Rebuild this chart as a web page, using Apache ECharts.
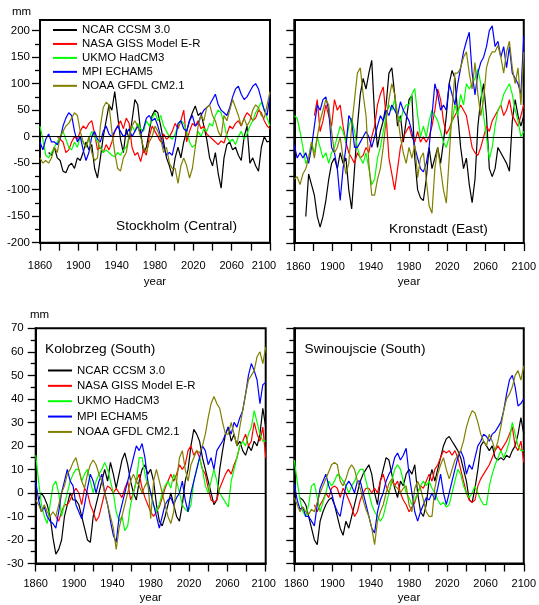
<!DOCTYPE html>
<html>
<head>
<meta charset="utf-8">
<script src="https://cdn.jsdelivr.net/npm/echarts@6/dist/echarts.min.js"></script>
<style>
html,body{margin:0;padding:0;background:#fff;}
#chart{width:539px;height:605px;}
</style>
</head>
<body>
<div id="chart"></div>
<script>
// ---------- data ----------
const years = [1860,1863,1866,1869,1872,1875,1878,1881,1884,1887,
  1890,1893,1896,1899,1902,1905,1908,1911,1914,1917,
  1920,1923,1926,1929,1932,1935,1938,1941,1944,1947,
  1950,1953,1956,1959,1962,1965,1968,1971,1974,1977,
  1980,1983,1986,1989,1992,1995,1998,2001,2004,2007,
  2010,2013,2016,2019,2022,2025,2028,2031,2034,2037,
  2040,2043,2046,2049,2052,2055,2058,2061,2064,2067,
  2070,2073,2076,2079,2082,2085,2088,2091,2094,2097,2100];

const modelNames = ['NCAR CCSM 3.0','NASA GISS Model E-R','UKMO HadCM3','MPI ECHAM5','NOAA GFDL CM2.1'];
const modelColors = ['#000000','#ff0000','#00ff00','#0000ff','#808000'];

const xTickLabels = [1860,1900,1940,1980,2020,2060,2100];
const topMajorTicks = [-200,-150,-100,-50,0,50,100,150,200];
const topMinorTicks = [-175,-125,-75,-25,25,75,125,175];
const bottomMajorTicks = [-30,-20,-10,0,10,20,30,40,50,60,70];
const bottomMinorTicks = [-25,-15,-5,5,15,25,35,45,55,65];

// Stockholm (Central)
const stockholmNCAR = [null,null,null,-30,-35,-20,-40,-45,-65,-68,
 -55,-50,-60,-40,-45,-30,-10,-25,-15,-60,
 -78,-40,0,30,60,50,85,40,-5,-30,
 15,-5,30,70,60,10,-30,-20,10,40,
 50,45,20,-10,-40,-55,-75,-40,-20,-40,
 -10,10,30,45,58,40,45,20,-5,-40,
 -55,-30,-70,-97,-40,-15,-10,-25,-20,-35,
 -45,0,20,-50,-40,-55,-65,-20,0,-10,
 -8];
const stockholmNASA = [null,null,null,null,null,null,0,-5,-10,-30,
 -25,-10,0,-5,10,20,15,25,30,5,
 -25,-20,-30,-15,-25,-10,10,20,30,15,
 35,25,-20,-35,-30,-47,-25,-35,0,20,
 10,0,-10,5,-5,0,10,25,15,30,
 50,-10,10,25,20,30,15,20,5,0,
 -5,-10,-15,-8,-12,5,20,15,25,30,
 20,35,45,40,30,35,50,45,30,20,
 15];
const stockholmUKMO = [20,-5,-35,-40,-30,-20,-10,0,10,-5,
 -20,-25,-10,-20,0,-10,-20,-5,10,0,
 -10,-20,-30,-25,-30,-35,-38,-30,-35,-25,
 -20,0,20,10,25,15,10,30,20,35,
 45,30,40,20,10,0,-5,5,20,30,
 25,10,-10,-20,-15,10,0,15,10,25,
 20,40,50,45,25,0,-10,-5,-15,0,
 10,-5,5,20,30,45,55,65,50,35,
 20];
const stockholmMPI = [-10,-25,-5,5,-10,-10,-15,-5,20,35,
 45,40,10,-10,0,-25,-45,-30,0,10,
 -5,-10,10,20,5,0,10,20,10,0,
 5,15,0,10,20,5,15,35,40,30,
 35,20,0,-20,-35,-30,-35,-10,25,30,
 15,10,30,40,20,25,40,50,55,60,
 70,80,60,50,45,40,55,75,90,95,
 80,70,75,85,95,100,90,70,50,40,
 80];
const stockholmGFDL = [-40,-50,-45,-50,-40,-20,-30,0,10,20,
 25,35,45,40,10,-10,-20,0,-30,-45,
 -40,20,55,65,60,10,-30,-60,-65,-40,
 -30,0,20,30,20,0,-20,-30,-10,0,
 20,10,-5,-30,-20,-50,-60,-60,-88,-55,
 -40,-55,-78,-60,-20,20,40,30,55,60,
 40,30,10,0,40,30,50,70,55,40,
 20,35,20,30,50,60,55,40,35,60,
 85];

// Kronstadt (East)
const kronstadtNCAR = [null,null,null,null,-150,-70,-90,-110,-150,-170,
 -150,-120,-80,-50,-40,-60,-30,-50,-40,-100,
 -136,-60,20,80,110,90,120,144,40,-20,
 10,30,60,120,130,80,20,40,-10,30,
 70,78,-40,-100,-115,-120,-80,-20,-60,-40,
 -20,-50,-10,40,100,125,110,40,-20,-60,
 -40,-90,-124,-80,20,70,100,40,-60,-75,
 -60,-20,-30,-40,-50,-65,30,70,40,20,
 40];
const kronstadtNASA = [null,null,null,null,null,null,null,40,70,10,
 30,60,40,20,70,50,60,20,-10,-30,
 -40,-50,-30,-40,-35,-20,-30,0,20,60,
 80,94,40,-40,-70,-100,-60,-20,0,10,
 20,0,-10,10,-10,0,-10,0,20,50,
 90,70,30,5,15,30,40,50,60,50,
 40,10,-20,-30,-35,-20,0,20,10,30,
 40,50,60,40,50,70,40,30,20,40,
 60];
const kronstadtUKMO = [40,35,10,-20,-50,-40,-10,-30,0,-20,
 -40,-30,-50,-30,-20,0,20,10,-10,20,
 35,10,-20,-40,-50,-30,-60,-90,-80,-40,
 -20,10,40,60,50,70,40,30,50,60,
 60,80,91,40,0,20,0,30,50,40,
 30,10,-10,-20,0,30,60,40,80,60,
 100,90,100,110,128,100,40,0,-42,-20,
 20,50,60,80,90,100,80,50,30,0,
 10];
const kronstadtMPI = [-15,-40,-30,-40,-30,-50,-20,20,60,50,
 70,75,50,-20,-30,-60,-120,-60,-20,40,
 30,-20,-20,-10,0,10,0,-20,0,20,
 40,30,50,40,60,50,40,66,50,40,
 30,10,-20,-40,-60,-66,-50,-20,40,100,
 80,50,60,50,100,80,60,100,130,160,
 180,197,120,79,120,140,150,170,200,209,
 170,180,150,170,130,170,120,110,100,80,
 190];
const kronstadtGFDL = [-80,-75,-90,-70,-60,-40,-10,-40,0,30,
 50,70,60,10,-30,-20,0,-40,-70,-50,
 20,70,120,130,80,40,-50,-110,-110,-80,
 -60,-20,30,70,100,80,40,0,-30,-50,
 -20,-40,-15,-77,-40,-30,-80,-130,-144,-60,
 -20,-60,-100,-125,-40,50,120,120,130,150,
 160,120,90,140,80,40,70,130,150,160,
 160,172,150,120,160,180,130,100,130,60,
 160];

// Kolobrzeg (South)
const kolobrzegNCAR = [null,-3,0,-2,-5,-10,-19,-26,-24,-20,
 -10,-5,0,-3,-3,-5,-10,-15,-20,-21,
 -10,-5,0,5,10,5,13,8,2,8,
 14,17,12,5,0,-3,5,10,12,8,
 10,5,-5,-12,-14,-10,-5,0,-5,-10,
 -12,-5,5,10,20,27,25,22,15,10,
 5,0,-5,-3,10,18,25,28,22,25,
 20,22,18,16,20,18,22,20,25,36,
 28];
const kolobrzegNASA = [null,null,null,null,null,null,null,-10,-12,-8,
 -5,-5,-3,0,2,0,-5,2,0,-5,
 -8,-12,-10,-5,0,3,2,0,2,0,
 -2,2,5,-3,0,5,8,2,-2,-5,
 -8,-10,-8,-6,-2,2,5,8,5,8,
 12,10,12,18,20,16,18,15,10,8,
 2,-3,-4,-3,2,5,8,10,8,12,
 15,20,22,25,20,22,30,25,22,28,
 15];
const kolobrzegUKMO = [16,5,-5,-10,-13,-5,3,5,0,-10,
 -5,0,5,8,10,10,5,8,10,5,
 0,5,8,10,13,10,5,0,-8,-12,
 -10,-16,-14,-5,0,5,15,15,8,3,
 0,-5,-8,-5,0,3,5,2,8,5,
 0,-5,-7,-8,-5,5,10,15,10,3,
 0,5,10,5,0,-2,-4,-6,5,10,
 15,20,22,20,25,28,35,30,25,22,
 22];
const kolobrzegMPI = [5,-3,-8,-6,-10,-12,-13,-15,-8,0,
 5,10,5,3,-5,-8,-11,-5,2,8,
 5,0,5,8,0,-5,-12,-18,-21,-10,
 -5,0,5,10,15,20,18,21,15,5,
 0,-5,-10,-15,-10,-5,-3,-2,-5,-2,
 0,5,-3,-8,0,5,10,15,20,18,
 12,15,10,18,20,22,25,28,25,30,
 28,32,35,42,50,55,52,48,38,46,
 47];
const kolobrzegGFDL = [-3,-5,-8,-5,-8,-10,-8,-10,-5,0,
 3,8,10,13,15,10,5,2,8,12,
 14,12,8,5,0,-5,-10,-15,-24,-15,
 -10,-5,0,5,8,5,3,0,3,5,
 -11,5,10,5,0,-5,-10,-13,-8,5,
 15,18,10,5,12,15,18,17,20,25,
 32,38,41,38,36,30,25,25,30,25,
 20,28,35,42,48,50,52,58,60,55,
 62];

// Swinoujscie (South)
const swinoujscieNCAR = [null,null,-2,-3,-5,-10,-15,-20,-22,-12,
 -8,-5,-3,-2,-5,-10,-15,-18,-12,-15,
 -10,-5,0,5,8,10,12,8,0,-5,
 5,10,15,14,8,2,-2,5,3,8,
 10,8,12,0,-8,-10,-5,5,10,5,
 10,15,20,23,24,22,20,18,15,10,
 5,-3,-4,2,10,20,22,20,18,20,
 15,14,15,14,16,15,18,20,25,32,
 25];
const swinoujscieNASA = [null,null,null,null,null,null,null,-5,-8,-5,
 -3,0,-2,2,3,2,-2,2,0,-3,
 -6,-10,-8,-3,0,2,2,0,2,0,
 5,8,3,0,5,3,5,0,-3,-5,
 -8,-6,-4,0,3,2,5,8,5,10,
 12,15,18,17,18,16,18,15,10,5,
 0,-3,-4,-3,3,6,8,10,12,15,
 18,20,18,20,22,25,28,20,18,22,
 13];
const swinoujscieUKMO = [14,5,-3,-8,-10,-5,3,4,-2,-8,
 -4,0,5,3,5,8,7,5,3,0,
 3,5,8,10,10,5,0,-5,-8,-10,
 -12,-10,-5,0,5,10,12,10,5,0,
 -2,-5,-3,0,3,5,3,5,2,0,
 -3,-5,-4,-6,-5,0,5,10,8,3,
 0,-2,0,3,0,-3,-5,-5,3,8,
 12,15,18,15,18,22,30,25,20,18,
 18];
const swinoujscieMPI = [4,-3,-7,-6,-10,-10,-12,-14,-5,2,
 5,8,3,0,-5,-8,-10,-3,3,5,
 3,0,5,5,0,-5,-10,-15,-17,-8,
 -3,0,5,8,10,15,17,14,16,19,
 8,0,-8,-12,-8,-5,-2,-3,0,-3,
 2,8,0,-5,0,5,10,15,18,15,
 8,12,10,15,20,22,25,24,22,25,
 26,28,30,35,42,48,50,45,37,38,
 40];
const swinoujscieGFDL = [-2,-5,-8,-6,-8,-9,-7,-8,-4,0,
 3,6,9,12,13,12,5,3,6,10,
 12,10,5,2,-3,-7,-10,-15,-22,-12,
 -8,-5,0,4,6,3,2,0,2,3,
 -5,-8,2,5,2,-3,-8,-10,-10,2,
 8,12,15,10,6,10,14,16,18,22,
 28,32,35,34,30,25,22,20,25,22,
 18,22,28,35,40,42,45,50,52,48,
 54];

// ---------- layout / styles ----------
const FONT = '"Liberation Sans", Arial, Helvetica, sans-serif';
const panels = [
  { title:'Stockholm (Central)', tx:116, ty:219, grid:{left:40, top:20, width:230, height:222.7},
    yMin:-200, yMax:220, major:topMajorTicks, minor:topMinorTicks, yLabels:true, yMargin:10,
    xMargin:18, nameGap:33, padMin:0, padMax:6,
    series:[stockholmNCAR,stockholmNASA,stockholmUKMO,stockholmMPI,stockholmGFDL] },
  { title:'Kronstadt (East)', tx:389, ty:222.6, grid:{left:294.3, top:20, width:230.7, height:223},
    yMin:-200, yMax:220, major:topMajorTicks, minor:topMinorTicks, yLabels:false, yMargin:10,
    xMargin:18, nameGap:33, padMin:4, padMax:0,
    series:[kronstadtNCAR,kronstadtNASA,kronstadtUKMO,kronstadtMPI,kronstadtGFDL] },
  { title:'Kolobrzeg (South)', tx:45, ty:342.6, grid:{left:35.7, top:328.3, width:230, height:235.7},
    yMin:-30, yMax:70, major:bottomMajorTicks, minor:bottomMinorTicks, yLabels:true, yMargin:12,
    xMargin:15, nameGap:28.5, padMin:0, padMax:2,
    series:[kolobrzegNCAR,kolobrzegNASA,kolobrzegUKMO,kolobrzegMPI,kolobrzegGFDL] },
  { title:'Swinoujscie (South)', tx:304.5, ty:342, grid:{left:294.3, top:328.3, width:230, height:235.7},
    yMin:-30, yMax:70, major:bottomMajorTicks, minor:bottomMinorTicks, yLabels:false, yMargin:12,
    xMargin:15, nameGap:28.5, padMin:2, padMax:0,
    series:[swinoujscieNCAR,swinoujscieNASA,swinoujscieUKMO,swinoujscieMPI,swinoujscieGFDL] }
];

const grids = [], xAxes = [], yAxes = [], series = [], titles = [];
panels.forEach((p, i) => {
  grids.push(Object.assign({show:true, borderColor:'#000', borderWidth:2, backgroundColor:'transparent'}, p.grid));
  const tickFont = {color:'#000', fontSize:11, fontFamily:FONT};
  xAxes.push({
    type:'value', gridIndex:i, min:1860, max:2100, interval:20,
    name:'year', nameLocation:'middle', nameGap:p.nameGap,
    nameTextStyle:{color:'#000', fontSize:11.5, fontFamily:FONT},
    axisLine:{show:true, onZero:false, lineStyle:{color:'#000', width:2}},
    axisTick:{show:true, length:8, lineStyle:{color:'#000', width:1.3}},
    axisLabel:Object.assign({show:true, margin:p.xMargin, showMinLabel:true, showMaxLabel:true,
      rich:{
        lo:Object.assign({padding:[0,0,0,2*p.padMin]}, tickFont),
        hi:Object.assign({padding:[0,2*p.padMax,0,0]}, tickFont)
      },
      formatter:v => {
        if (xTickLabels.indexOf(v) < 0) return '';
        if (v === xTickLabels[0]) return '{lo|' + v + '}';
        if (v === xTickLabels[xTickLabels.length-1]) return '{hi|' + v + '}';
        return String(v);
      }}, tickFont),
    splitLine:{show:false}
  });
  yAxes.push({
    type:'value', gridIndex:i, min:p.yMin, max:p.yMax, position:'left',
    axisLine:{show:true, onZero:false, lineStyle:{color:'#000', width:2}},
    axisTick:{show:true, length:8, customValues:p.major, lineStyle:{color:'#000', width:1.3}},
    axisLabel:{show:p.yLabels, customValues:p.major, margin:p.yMargin, color:'#000', fontSize:11.5, fontFamily:FONT},
    splitLine:{show:false}
  });
  yAxes.push({
    type:'value', gridIndex:i, min:p.yMin, max:p.yMax, position:'left',
    axisLine:{show:false},
    axisTick:{show:true, length:5, customValues:p.minor, lineStyle:{color:'#000', width:1.3}},
    axisLabel:{show:false, customValues:p.minor},
    splitLine:{show:false}
  });
  p.series.forEach((vals, k) => {
    const s = {
      type:'line', name:modelNames[k], xAxisIndex:i, yAxisIndex:2*i,
      data: years.map((y, j) => [y, vals[j]]),
      showSymbol:false, symbol:'none', connectNulls:false,
      lineStyle:{color:modelColors[k], width:1.2},
      itemStyle:{color:modelColors[k]},
      animation:false, silent:true
    };
    if (k === 4) {
      s.markLine = {silent:true, symbol:['none','none'], label:{show:false},
        lineStyle:{color:'#000', width:1, type:'solid'}, data:[{yAxis:0}], animation:false};
    }
    series.push(s);
  });
  titles.push({text:p.title, left:p.tx, top:p.ty, padding:0,
    textStyle:{color:'#000', fontSize:13.7, fontWeight:'normal', fontFamily:FONT}});
});
titles.push({text:'mm', left:12, top:6, padding:0, textStyle:{color:'#000', fontSize:11.5, fontWeight:'normal', fontFamily:FONT}});
titles.push({text:'mm', left:30, top:309, padding:0, textStyle:{color:'#000', fontSize:11.5, fontWeight:'normal', fontFamily:FONT}});

const legendCommon = {
  orient:'vertical', padding:0, itemWidth:24, selectedMode:false,
  itemStyle:{opacity:0, borderWidth:0},
  data:modelNames, textStyle:{color:'#000', fontSize:11.4, fontFamily:FONT}
};

const option = {
  backgroundColor:'#fff',
  animation:false,
  title:titles,
  legend:[
    Object.assign({left:52, top:24.3, itemHeight:14.2, itemGap:2.6}, legendCommon),
    Object.assign({left:47, top:364.4, itemHeight:15.2, itemGap:3.2}, legendCommon)
  ],
  grid:grids, xAxis:xAxes, yAxis:yAxes, series:series
};

const chart = echarts.init(document.getElementById('chart'), null, {renderer:'canvas'});
chart.setOption(option);
</script>
</body>
</html>
